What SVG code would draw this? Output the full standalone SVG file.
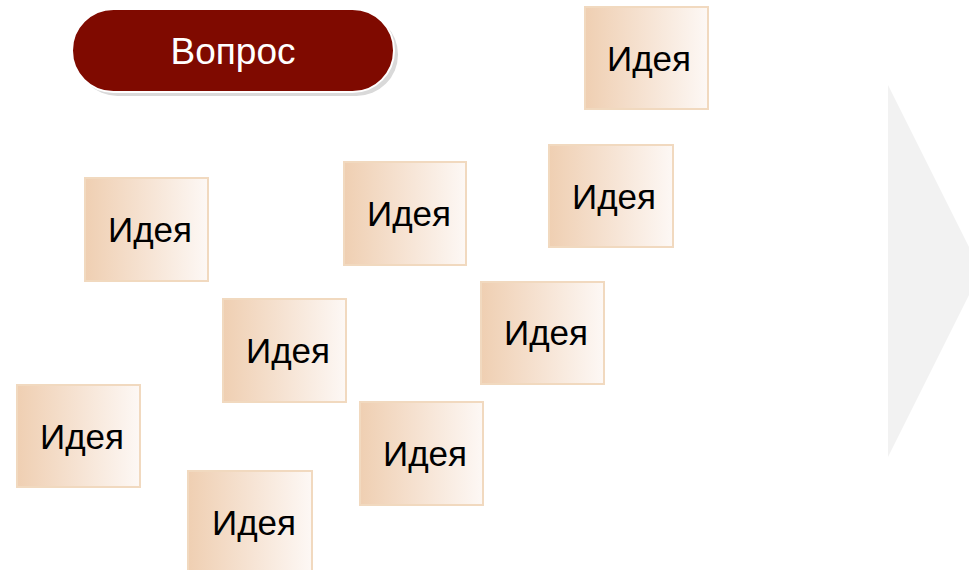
<svg xmlns="http://www.w3.org/2000/svg" width="969" height="570" viewBox="0 0 969 570">
<defs>
<linearGradient id="cardGrad" x1="0" y1="0" x2="1" y2="0">
<stop offset="0" stop-color="#efcfb2"/>
<stop offset="0.5" stop-color="#f6e3d3"/>
<stop offset="1" stop-color="#fdf8f5"/>
</linearGradient>
<style>
.card{fill:url(#cardGrad);stroke:#f1d9bf;stroke-width:2}
.lbl{font-family:"Liberation Sans",Arial,sans-serif;font-size:35px;fill:#000;text-anchor:middle}
.q{font-family:"Liberation Sans",Arial,sans-serif;font-size:37px;fill:#fff;text-anchor:middle}
</style>
</defs>
<rect width="969" height="570" fill="#fff"/>
<g id="arrow">
<polygon points="888,85 981,271 888,457" fill="#f2f2f2"/>
</g>
<g id="question">
<rect x="76" y="13" width="322" height="83" rx="41.5" fill="#d9d9d9"/>
<rect x="72" y="9" width="322" height="83" rx="41.5" fill="#7f0a00" stroke="#fff" stroke-width="2"/>
<text class="q" x="233" y="64">Вопрос</text>
</g>
<g id="idea1"><rect class="card" x="585" y="7" width="123" height="102"/><text class="lbl" x="649" y="71">Идея</text></g>
<g id="idea2"><rect class="card" x="549" y="145" width="124" height="102"/><text class="lbl" x="614" y="209">Идея</text></g>
<g id="idea3"><rect class="card" x="344" y="162" width="122" height="103"/><text class="lbl" x="409" y="226">Идея</text></g>
<g id="idea4"><rect class="card" x="85" y="178" width="123" height="103"/><text class="lbl" x="150" y="242">Идея</text></g>
<g id="idea5"><rect class="card" x="223" y="299" width="123" height="103"/><text class="lbl" x="288" y="363">Идея</text></g>
<g id="idea6"><rect class="card" x="481" y="282" width="123" height="102"/><text class="lbl" x="546" y="345">Идея</text></g>
<g id="idea7"><rect class="card" x="17" y="385" width="123" height="102"/><text class="lbl" x="82" y="449">Идея</text></g>
<g id="idea8"><rect class="card" x="360" y="402" width="123" height="103"/><text class="lbl" x="425" y="466">Идея</text></g>
<g id="idea9"><rect class="card" x="188" y="471" width="124" height="103"/><text class="lbl" x="254" y="535">Идея</text></g>
<g id="connectors"/>
</svg>
